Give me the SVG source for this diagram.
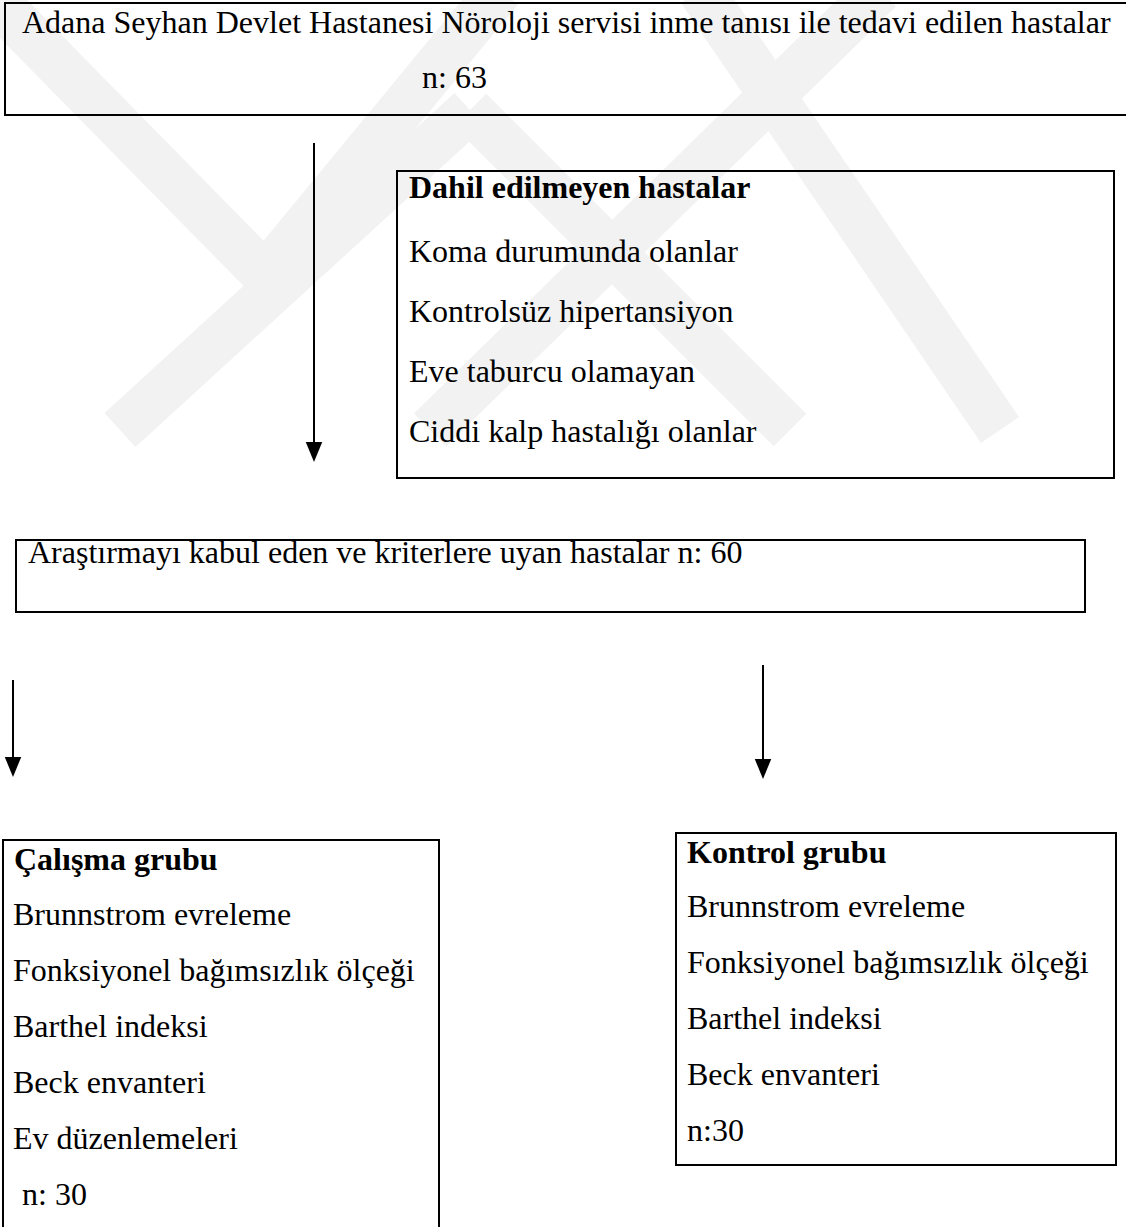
<svg xmlns="http://www.w3.org/2000/svg" width="1126" height="1227" viewBox="0 0 1126 1227">
  <style>
    .box { fill: none; stroke: #000; stroke-width: 2; }
    .t { font-family: "Liberation Serif", "Times New Roman", serif; font-size: 32px; fill: #000; }
    .b { font-weight: bold; }
    .conn { stroke: #000; stroke-width: 2; fill: none; }
    .wm { stroke: #f2f2f2; stroke-width: 46; fill: none; stroke-linecap: butt; }
  </style>
  <defs>
    <marker id="ah" markerUnits="userSpaceOnUse" markerWidth="20" markerHeight="18" refX="0" refY="7" orient="auto" viewBox="0 0 17 14">
      <path d="M0,0 L17,7 L0,14 z" fill="#000"/>
    </marker>
  </defs>
  <rect width="1126" height="1227" fill="#fff"/>

  <g id="watermark">
    <line class="wm" x1="-10" y1="-5" x2="265" y2="275"/>
    <line class="wm" x1="120" y1="430" x2="470" y2="110"/>
    <line class="wm" x1="470" y1="110" x2="790" y2="430"/>
    <line class="wm" x1="265" y1="275" x2="500" y2="-10"/>
    <line class="wm" x1="430" y1="430" x2="880" y2="-10"/>
    <line class="wm" x1="700" y1="-10" x2="1000" y2="430"/>
  </g>

  <g id="connectors">
    <line class="conn" x1="314" y1="143" x2="314" y2="442" marker-end="url(#ah)"/>
    <line class="conn" x1="13" y1="680" x2="13" y2="757" marker-end="url(#ah)"/>
    <line class="conn" x1="763" y1="665" x2="763" y2="759" marker-end="url(#ah)"/>
  </g>

  <g id="node-all">
    <rect class="box" x="5" y="3" width="1130" height="112"/>
    <text class="t" x="22" y="33">Adana Seyhan Devlet Hastanesi Nöroloji servisi inme tanısı ile tedavi edilen hastalar</text>
    <text class="t" x="422" y="88">n: 63</text>
  </g>

  <g id="node-excluded">
    <rect class="box" x="397" y="171" width="717" height="307"/>
    <text class="t b" x="409" y="198">Dahil edilmeyen hastalar</text>
    <text class="t" x="409" y="262">Koma durumunda olanlar</text>
    <text class="t" x="409" y="322">Kontrolsüz hipertansiyon</text>
    <text class="t" x="409" y="382">Eve taburcu olamayan</text>
    <text class="t" x="409" y="442">Ciddi kalp hastalığı olanlar</text>
  </g>

  <g id="node-eligible">
    <rect class="box" x="16" y="540" width="1069" height="72"/>
    <text class="t" x="28" y="563">Araştırmayı kabul eden ve kriterlere uyan hastalar n: 60</text>
  </g>

  <g id="node-study">
    <rect class="box" x="3" y="840" width="436" height="420"/>
    <text class="t b" x="14" y="870">Çalışma grubu</text>
    <text class="t" x="13" y="925">Brunnstrom evreleme</text>
    <text class="t" x="13" y="981">Fonksiyonel bağımsızlık ölçeği</text>
    <text class="t" x="13" y="1037">Barthel indeksi</text>
    <text class="t" x="13" y="1093">Beck envanteri</text>
    <text class="t" x="13" y="1149">Ev düzenlemeleri</text>
    <text class="t" x="22" y="1205">n: 30</text>
  </g>

  <g id="node-control">
    <rect class="box" x="676" y="833" width="440" height="332"/>
    <text class="t b" x="687" y="863">Kontrol grubu</text>
    <text class="t" x="687" y="917">Brunnstrom evreleme</text>
    <text class="t" x="687" y="973">Fonksiyonel bağımsızlık ölçeği</text>
    <text class="t" x="687" y="1029">Barthel indeksi</text>
    <text class="t" x="687" y="1085">Beck envanteri</text>
    <text class="t" x="687" y="1141">n:30</text>
  </g>
</svg>
